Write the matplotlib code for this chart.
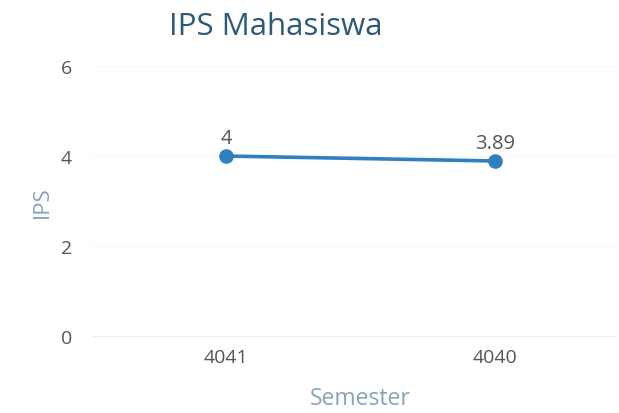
import matplotlib.pyplot as plt

# chart data
semesters = ["4041", "4040"]
ips_values = [4, 3.89]
value_labels = ["4", "3.89"]
y_ticks = [0, 2, 4, 6]

plt.rcParams['font.family'] = ['Open Sans', 'DejaVu Sans']

fig = plt.figure(figsize=(6.19, 4.14), dpi=100)
ax = fig.add_axes([0.148, 0.186, 0.846, 0.652])

x = list(range(len(semesters)))
ax.plot(x, ips_values, color='#2f7fc1', linewidth=2.6, marker='o',
        markersize=9.5, zorder=3)
for xi, yi, lab in zip(x, ips_values, value_labels):
    ax.annotate(lab, (xi, yi), xytext=(0, 6), textcoords='offset points',
                ha='center', va='bottom', fontsize=14.5, color='#555555')

ax.set_xlim(-0.5, 1.446)
ax.set_ylim(0, 6)
ax.set_xticks(x)
ax.set_xticklabels(semesters)
ax.set_yticks(y_ticks)
ax.tick_params(axis='both', length=0, labelsize=14, colors='#555555')
ax.tick_params(axis='y', pad=14)
ax.tick_params(axis='x', pad=9)

ax.grid(axis='y', color='#f8f8f8', linewidth=1)
for s in ['top', 'right', 'left']:
    ax.spines[s].set_visible(False)
ax.spines['bottom'].set_color('#eeeeee')

ax.set_xlabel("Semester", fontsize=16.5, color='#86a3bd')
ax.xaxis.set_label_coords(0.513, -0.185)
ax.set_ylabel("IPS", fontsize=16, color='#86a3bd', labelpad=6)

fig.text(0.445, 0.935, "IPS Mahasiswa", ha='center', va='center',
         fontsize=22.5, color='#2d5a78')

fig.savefig("out.png", dpi=100)
